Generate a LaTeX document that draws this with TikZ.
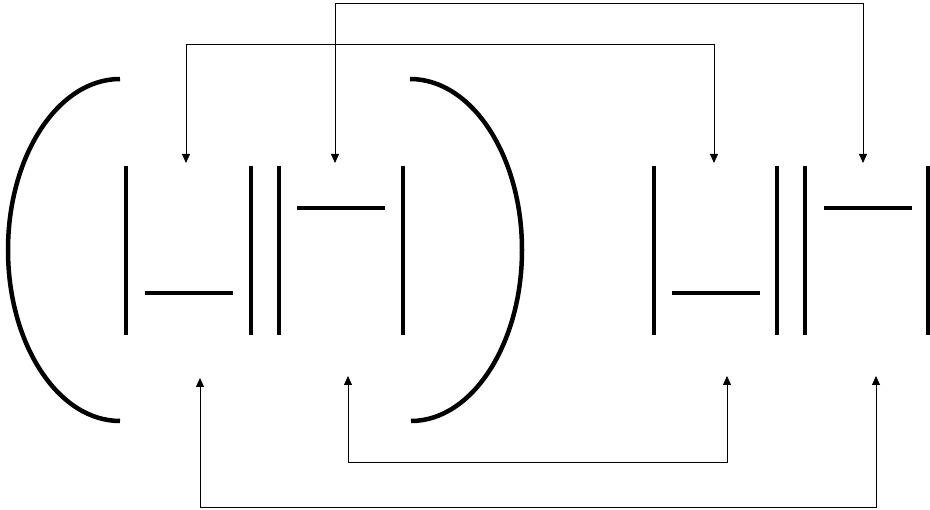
\documentclass[tikz,border=0pt]{standalone}
\usetikzlibrary{arrows.meta}
\begin{document}
\begin{tikzpicture}[x=1pt,y=-1pt,
  plate/.style={line width=4pt,line cap=butt},
  paren/.style={line width=4.5pt,line cap=butt},
  conn/.style={line width=0.8pt,{Triangle[width=8pt,length=9pt]}-{Triangle[width=8pt,length=9pt]}}]
\useasboundingbox[fill=white] (0,0) rectangle (930,510);
% left parenthesis
\draw[paren] (120,79) .. controls (58,79) and (8,156) .. (8,250)
  .. controls (8,344) and (58,421) .. (120,421);
% right parenthesis
\draw[paren] (410,79) .. controls (472,79) and (522,156) .. (522,250)
  .. controls (522,344) and (472,421) .. (411,421);
% left group plates
\draw[plate] (126,166) -- (126,335);
\draw[plate] (145,293) -- (233,293);
\draw[plate] (251,166) -- (251,335);
\draw[plate] (279,166) -- (279,335);
\draw[plate] (297,208) -- (385,208);
\draw[plate] (403,166) -- (403,335);
% right group plates
\draw[plate] (654,166) -- (654,335);
\draw[plate] (672,293) -- (760,293);
\draw[plate] (777,166) -- (777,335);
\draw[plate] (805,166) -- (805,335);
\draw[plate] (824,208) -- (912,208);
\draw[plate] (928,166) -- (928,335);
% arrow end points
\coordinate (t1) at (186,163);
\coordinate (t2) at (335,163);
\coordinate (t3) at (714,163);
\coordinate (t4) at (863,163);
\coordinate (b1) at (200,378);
\coordinate (b2) at (348,376);
\coordinate (b3) at (727,376);
\coordinate (b4) at (876,376);
\coordinate (h1) at (0,44);
\coordinate (h2) at (0,3);
\coordinate (h3) at (0,462);
\coordinate (h4) at (0,507);
% connectors
\draw[conn] (t1) -- (t1 |- h1) -| (t3);
\draw[conn] (t2) -- (t2 |- h2) -| (t4);
\draw[conn] (b2) -- (b2 |- h3) -| (b3);
\draw[conn] (b1) -- (b1 |- h4) -| (b4);
\end{tikzpicture}
\end{document}
